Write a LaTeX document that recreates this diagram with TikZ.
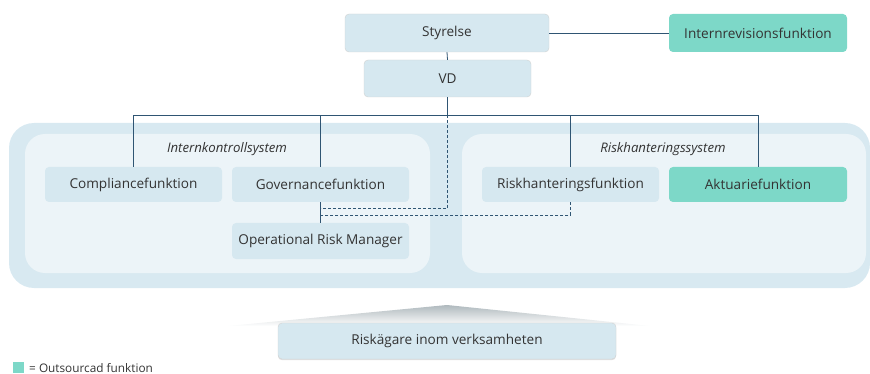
\documentclass[tikz,border=0pt]{standalone}
\usepackage{fontspec}
\setmainfont{Open Sans}
\usetikzlibrary{shadows}
\definecolor{boxblue}{HTML}{D6E8F0}
\definecolor{panelout}{HTML}{D8E9F1}
\definecolor{panelin}{HTML}{ECF4F8}
\definecolor{outsourced}{HTML}{7DD8C8}
\definecolor{linkblue}{HTML}{2F5573}
\definecolor{textgray}{HTML}{333333}

\begin{document}
\begin{tikzpicture}[x=1pt, y=-1pt,
    unit/.style={rounded corners=4pt, fill=boxblue, text=textgray, minimum height=36pt,
        inner sep=0pt, font=\fontsize{13.6}{15}\selectfont},
    topunit/.style={unit, draw=gray!35, line width=0.4pt},
    extunit/.style={unit, fill=outsourced},
    panellabel/.style={text=textgray, font=\fontsize{13.2}{15}\selectfont\itshape},
    link/.style={draw=linkblue, line width=0.8pt},
    dottedlink/.style={link, dash pattern=on 3pt off 2pt}]
    \useasboundingbox (0,0) rectangle (870,374);

    \fill[panelout, rounded corners=25pt] (9,123) rectangle (870,288);
    \fill[panelin, rounded corners=20pt] (25,134) rectangle (430,273);
    \fill[panelin, rounded corners=20pt] (462,134) rectangle (866,273);
    \node[panellabel] (iks) at (227,149) {Internkontrollsystem};
    \node[panellabel] (rhs) at (663,149) {Riskhanteringssystem};

    \node[topunit, minimum width=204pt, minimum height=38pt] (styrelse) at (447,33) {Styrelse};
    \node[extunit, minimum width=178pt, minimum height=38pt] (internrev) at (758,33) {Internrevisionsfunktion};
    \node[topunit, minimum width=167pt, minimum height=37pt] (vd) at (447.5,78.5) {VD};

    \node[unit, minimum width=177pt, minimum height=35pt] (compliance) at (133.5,184.5) {Compliancefunktion};
    \node[unit, minimum width=177pt, minimum height=35pt] (governance) at (320.5,184.5) {Governancefunktion};
    \node[unit, minimum width=177pt] (orm) at (320.5,241) {Operational Risk Manager};
    \node[unit, minimum width=177pt, minimum height=35pt] (riskfunk) at (570.5,184.5) {Riskhanteringsfunktion};
    \node[extunit, minimum width=178pt, minimum height=35pt] (aktuarie) at (758,184.5) {Aktuariefunktion};

    \shade[top color=gray!45!boxblue, bottom color=white] (447,305) -- (650,326) -- (228,326) -- cycle;
    \node[topunit, minimum width=338pt, drop shadow={opacity=0.25, shadow xshift=0pt, shadow yshift=-1.2pt}]
        (riskagare) at (447,341) {Riskägare inom verksamheten};

    \coordinate (bus) at (0,115);
    \coordinate (dashA) at (0,208);
    \coordinate (dashB) at (0,215);

    \draw[link] (styrelse.east) -- (internrev.west);
    \draw[link] (styrelse.south) -- (vd.north);
    \draw[link] (vd.south) -- (vd.south |- bus);
    \draw[link] (compliance.north) -- (compliance.north |- bus) -- (aktuarie.north |- bus) -- (aktuarie.north);
    \draw[link] (governance.north) -- (governance.north |- bus);
    \draw[link] (riskfunk.north) -- (riskfunk.north |- bus);
    \draw[link] (governance.south) -- (orm.north);
    \draw[dottedlink] (vd.south |- bus) -- (vd.south |- dashA) -- (governance.south |- dashA);
    \draw[dottedlink] (riskfunk.south) -- (riskfunk.south |- dashB) -- (governance.south |- dashB);

    \node[fill=outsourced, minimum size=11pt, inner sep=0pt] (legendbox) at (18,367.5) {};
    \node[anchor=west, text=textgray, inner sep=0pt, font=\fontsize{11.8}{13}\selectfont]
        (legendtext) at (29,368) {= Outsourcad funktion};
\end{tikzpicture}
\end{document}
